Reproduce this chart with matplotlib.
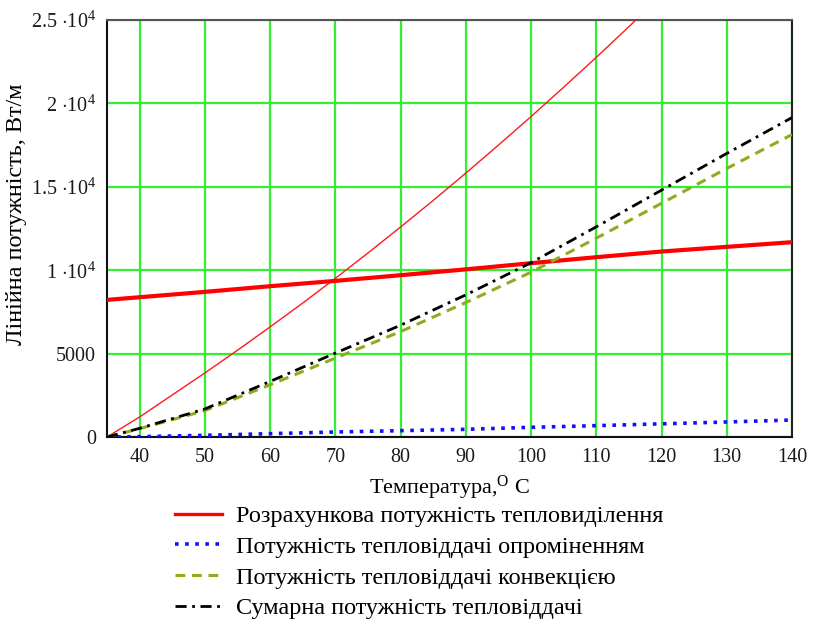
import matplotlib
matplotlib.use('Agg')
import matplotlib.pyplot as plt
import numpy as np

plt.rcParams['font.family'] = ['Liberation Serif', 'DejaVu Serif']
plt.rcParams['mathtext.fontset'] = 'custom'
plt.rcParams['mathtext.rm'] = 'Liberation Serif'
plt.rcParams['mathtext.it'] = 'Liberation Serif'

# temperature points
t = [35, 40, 50, 60, 70, 80, 90, 100, 110, 120, 130, 140]
# thin red, denser points
t_calc = [35, 40, 45, 50, 55, 60, 65, 70, 75, 80, 85, 90, 95, 100, 105, 110, 115, 120]
q_calc = [0, 1200, 2520, 3840, 5200, 6600, 8030, 9510, 11030, 12590, 14180,
          15820, 17500, 19210, 20970, 22760, 24600, 26470]

q_heat = [8220, 8380, 8700, 9040, 9360, 9700, 10050, 10420, 10780, 11120, 11400, 11680]
q_rad = [0, 20, 100, 200, 300, 380, 460, 580, 680, 790, 900, 1020]
q_conv = [0, 500, 1580, 3130, 4730, 6320, 8060, 9880, 11920, 14010, 16100, 18130]
q_sum = [0, 520, 1680, 3330, 5030, 6700, 8520, 10450, 12600, 14800, 17000, 19150]

labels = ['Розрахункова потужність тепловиділення',
          'Потужність тепловіддачі опроміненням',
          'Потужність тепловіддачі конвекцією',
          'Сумарна потужність тепловіддачі']

fig = plt.figure(figsize=(8.14, 6.19), dpi=100)
ax = fig.add_axes([107 / 814, 1 - 437 / 619, (792 - 107) / 814, (437 - 20) / 619])

ax.plot(t_calc, q_calc, color='#ff1a1a', lw=1.0, zorder=3)
l1, = ax.plot(t, q_heat, color='#ff0000', lw=3.0, zorder=3)
l2, = ax.plot(t, q_rad, color='#1010ff', lw=2.6, linestyle=(0, (1, 1.8)), zorder=3)
l3, = ax.plot(t, q_conv, color='#8fab1e', lw=2.2, linestyle=(0, (3.2, 2.2)), zorder=3)
l4, = ax.plot(t, q_sum, color='#000000', lw=2.0, linestyle=(0, (4, 2, 1, 2)), zorder=4)

ax.set_xlim(35, 140)
ax.set_ylim(0, 25000)
ax.set_xticks(range(40, 141, 10))
ax.set_yticks([0, 5000, 10000, 15000, 20000, 25000])
ax.set_yticklabels(['0', '5000', r'$1\ {\cdot}10^{4}$', r'$1.5\ {\cdot}10^{4}$',
                    r'$2\ {\cdot}10^{4}$', r'$2.5\ {\cdot}10^{4}$'])
ax.tick_params(length=0, labelsize=14.5, pad=8, colors='#1a1a1a')
ax.grid(True, color='#33ee33', lw=1.6)
ax.set_axisbelow(True)

for s in ['left', 'bottom']:
    ax.spines[s].set_color('#111111')
    ax.spines[s].set_linewidth(1.5)
ax.spines['top'].set_color('#555555')
ax.spines['top'].set_linewidth(1.5)
ax.spines['right'].set_color('#222222')
ax.spines['right'].set_linewidth(1.5)

ax.set_ylabel('Лінійна потужність, Вт/м', fontsize=17.5)
ax.yaxis.set_label_coords(-0.117, 0.534)
ax.set_xlabel(r'Температура,$^{\mathrm{O}}$ C', fontsize=16, labelpad=5)

leg = fig.legend([l1, l2, l3, l4], labels, loc='upper left',
                 bbox_to_anchor=(175 / 814, 1 - 505 / 619), frameon=False,
                 fontsize=17.5, handlelength=1.95, handletextpad=0.55,
                 labelspacing=0.36, borderpad=0, borderaxespad=0)
leg.get_lines()[0].set_linewidth(2.4)

fig.savefig('out.png', dpi=100)
